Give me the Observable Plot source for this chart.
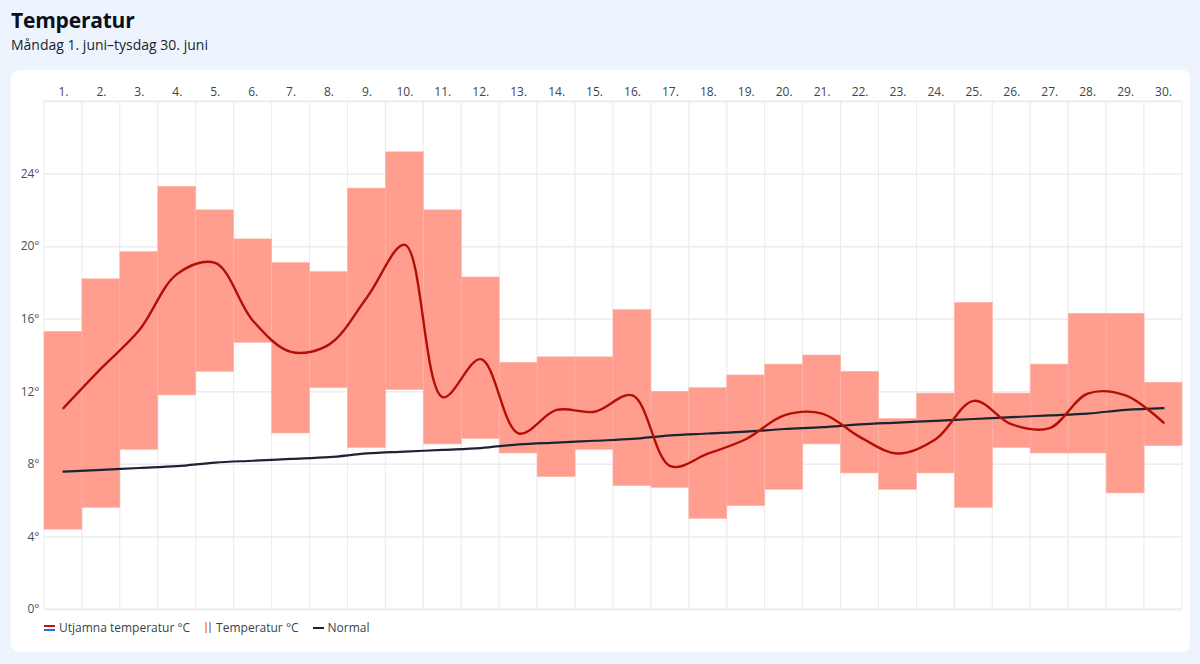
<!DOCTYPE html>
<html>
<head>
<meta charset="utf-8">
<script src="https://cdn.jsdelivr.net/npm/d3@7"></script>
<script src="https://cdn.jsdelivr.net/npm/@observablehq/plot@0.6"></script>
<style>
  html, body { margin: 0; padding: 0; }
  body { width: 1200px; height: 664px; background: #edf4fe; position: relative; overflow: hidden; font-family: "Open Sans", "Noto Sans", sans-serif; }
  #title { position: absolute; left: 11px; top: 6px; font-size: 21px; font-weight: 700; color: #0b0f1c; letter-spacing: -0.2px; }
  #subtitle { position: absolute; left: 11px; top: 35px; font-size: 14px; color: #1a1f2c; }
  #card { position: absolute; left: 11px; top: 70px; width: 1179px; height: 582px; background: #fff; border-radius: 8px; }
  #chart { position: absolute; left: 0; top: 60px; }
  #legend { position: absolute; left: 44px; top: 619px; font-size: 12px; color: #3a3f4b; display: flex; align-items: center; }
  .item { display: flex; align-items: center; margin-right: 14px; }
  .ico { display: inline-block; margin-right: 4px; }
</style>
</head>
<body>
<div id="title">Temperatur</div>
<div id="subtitle">Måndag 1. juni–tysdag 30. juni</div>
<div id="card"></div>
<div id="chart"></div>
<div id="legend">
  <div class="item"><svg class="ico" width="11" height="8"><rect x="0" y="1" width="11" height="2" fill="#c1140a"/><rect x="0" y="5" width="11" height="2" fill="#2f6fd8"/></svg>Utjamna temperatur °C</div>
  <div class="item"><svg class="ico" width="8" height="11"><rect x="1" y="0" width="2" height="11" fill="#ff9d8e"/><rect x="5" y="0" width="2" height="11" fill="#8fb0e8"/></svg>Temperatur °C</div>
  <div class="item"><svg class="ico" width="11" height="4"><rect x="0" y="1" width="11" height="2" fill="#1b2433"/></svg>Normal</div>
</div>
<script>
const days = d3.range(1, 31);
const tempMax = [15.3, 18.2, 19.7, 23.3, 22.0, 20.4, 19.1, 18.6, 23.2, 25.2, 22.0, 18.3, 13.6, 13.9, 13.9, 16.5, 12.0, 12.2, 12.9, 13.5, 14.0, 13.1, 10.5, 11.9, 16.9, 11.9, 13.5, 16.3, 16.3, 12.5];
const tempMin = [4.4, 5.6, 8.8, 11.8, 13.1, 14.7, 9.7, 12.2, 8.9, 12.1, 9.1, 9.4, 8.6, 7.3, 8.8, 6.8, 6.7, 5.0, 5.7, 6.6, 9.1, 7.5, 6.6, 7.5, 5.6, 8.9, 8.6, 8.6, 6.4, 9.0];
const smoothed = [11.1, 13.3, 15.4, 18.5, 19.1, 15.9, 14.2, 14.6, 17.2, 20.1, 11.7, 13.8, 9.7, 11.0, 10.9, 11.8, 7.9, 8.6, 9.4, 10.7, 10.8, 9.5, 8.6, 9.4, 11.5, 10.2, 10.0, 11.9, 11.8, 10.3];
const normal = [7.6, 7.7, 7.8, 7.9, 8.1, 8.2, 8.3, 8.4, 8.6, 8.7, 8.8, 8.9, 9.1, 9.2, 9.3, 9.4, 9.6, 9.7, 9.8, 9.95, 10.05, 10.2, 10.3, 10.4, 10.5, 10.6, 10.7, 10.8, 11.0, 11.1];
const yTicks = [0, 4, 8, 12, 16, 20, 24];
const yGrid = [0, 4, 8, 12, 16, 20, 24, 28];

const data = days.map((d, i) => ({day: d, lo: tempMin[i], hi: tempMax[i], sm: smoothed[i], nm: normal[i]}));

const chart = Plot.plot({
  width: 1200,
  height: 560,
  marginLeft: 44,
  marginRight: 18,
  marginTop: 41,
  marginBottom: 11,
  style: {fontFamily: "'Open Sans', 'Noto Sans', sans-serif", fontSize: "12px", color: "#4a4f5a", background: "transparent"},
  x: {type: "band", domain: days, paddingInner: 0, paddingOuter: 0, round: false, axis: null},
  y: {domain: [0, 28], axis: null},
  marks: [
    Plot.barY(days, {x: d => d, y1: 0, y2: 28, fill: "white", stroke: "#ececec", strokeWidth: 1}),
    Plot.ruleY(yGrid, {stroke: "#ececec", strokeWidth: 1.5}),
    Plot.barY(data, {x: "day", y1: "lo", y2: "hi", fill: "#ff9d8e", stroke: "#ffb3a7", strokeWidth: 0.6}),
    Plot.line(data, {x: "day", y: "nm", stroke: "#1b2433", strokeWidth: 2.2, curve: "catmull-rom"}),
    Plot.line(data, {x: "day", y: "sm", stroke: "#b40f05", strokeWidth: 2.4, curve: "catmull-rom"}),
    Plot.axisX({anchor: "top", label: null, tickSize: 0, tickPadding: 6, tickFormat: d => d + ".", fill: "#3e4350", fontSize: 12}),
    Plot.axisY({ticks: yTicks, label: null, tickSize: 0, tickPadding: 5, tickFormat: d => d + "°", fill: "#4a4f5a", fontSize: 12})
  ]
});
document.getElementById("chart").appendChild(chart);
</script>
</body>
</html>
